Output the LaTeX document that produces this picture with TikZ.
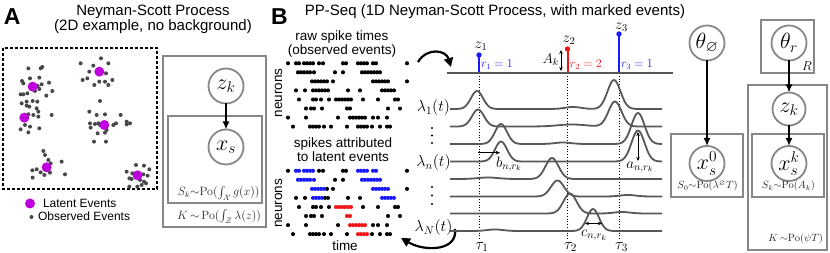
\RequirePackage{fix-cm}
\documentclass[tikz,border=0pt]{standalone}
\usepackage{amssymb}
\usepackage[no-math]{fontspec}
\setmainfont{Liberation Sans}
\usetikzlibrary{arrows.meta}
\newcommand\fsz[1]{\fontsize{#1}{#1}\selectfont}
\definecolor{mag}{RGB}{190,0,220}
\definecolor{dotg}{RGB}{72,72,72}
\definecolor{boxg}{RGB}{135,135,135}
\definecolor{curveg}{RGB}{88,88,88}
\definecolor{sblue}{RGB}{25,25,255}
\definecolor{sred}{RGB}{240,20,20}
\begin{document}
\begin{tikzpicture}[x=1pt,y=-1pt,
  every node/.style={inner sep=0pt, outer sep=0pt},
  gm/.style={circle, draw=boxg, line width=1.8pt, minimum size=35pt, inner sep=0pt, font=\fsz{22}, fill=white},
  plate/.style={draw=boxg, line width=1.8pt},
  arr/.style={-{Latex[length=8pt,width=7pt]}, line width=1.8pt},
  dbl/.style={{Stealth[length=4pt,width=3.5pt]}-{Stealth[length=4pt,width=3.5pt]}, line width=0.8pt},
  sgl/.style={-{Stealth[length=4.5pt,width=4pt]}, line width=0.8pt},
  curve/.style={curveg, line width=1.8pt, line join=round},
  tau/.style={dotted, line width=0.8pt},
  bigarr/.style={-{Triangle[length=9pt,width=9pt]}, line width=2.2pt},
  stem/.style={line width=2pt},
  lbl/.style={font=\fsz{13.5}, anchor=base},
  declare function={bp(\a,\c,\h,\s)=\h*exp(-min(((\a-\c)/\s)^2/2,9));}
]
\useasboundingbox (0,0) rectangle (830,253);

% ---------------- Panel A ----------------
\node[font=\fsz{23}\bfseries, anchor=base west] (labA) at (4,25) {A};
\node[font=\fsz{15}, anchor=base] (titA1) at (153,16) {Neyman-Scott Process};
\node[font=\fsz{15}, anchor=base] (titA2) at (153,30.5) {(2D example, no background)};

\draw[dashed, dash pattern=on 3pt off 2pt, line width=1.3pt] (3,48) rectangle (157,189);

\begin{scope}[shift={(0pt,-45pt)}, x=0.3333pt, y=-0.3333pt]
\foreach \p in {(85,70),(122,70),(127,66),(66,108),(70,115),(90,100),(118,98),(147,113),(125,118),(113,123),(118,132),(105,138),(62,148),(70,148),(82,145),(139,152),(157,138),(65,175),(80,170),(98,168),(112,170),(80,182),(88,185),(110,190),(115,200),(85,208),(100,210),(115,215),(155,210),(75,240),(90,245),(85,262),(62,253),(118,250),
(242,55),(303,40),(325,55),(268,80),(280,62),(318,85),(337,105),(248,105),(262,100),(283,120),(298,110),(315,110),(325,120),
(300,168),(268,200),(290,210),(315,208),(362,210),(270,235),(285,237),(295,235),(300,240),(318,242),(348,235),(340,240),(380,230),(390,235),(380,238),(272,248),(320,255),(315,263),(293,265),(282,290),(318,290),
(130,318),(135,330),(145,345),(152,355),(185,350),(97,376),(110,373),(122,382),(133,390),(150,383),(195,388),(98,398),
(408,360),(432,362),(448,373),(380,380),(397,385),(430,388),(443,392),(388,400),(395,402),(420,405),(432,410),(438,415),(388,425),(412,425),(425,420)}
  {\fill[dotg] \p circle[radius=2pt];}
\foreach \p in {(98,125),(298,80),(73,218),(313,240),(140,367),(413,391)}
  {\fill[mag] \p circle[radius=5pt];}
\end{scope}

\fill[mag] (30,203.5) circle[radius=5pt];
\node[font=\fsz{12}, anchor=base west] (legL) at (43,207.5) {Latent Events};
\fill[dotg] (31.5,217) circle[radius=2pt];
\node[font=\fsz{12}, anchor=base west] (legO) at (38,221) {Observed Events};

\draw[plate] (163,56) rectangle (266,227);
\draw[plate] (168,116) rectangle (262,203);
\node[gm] (zA) at (226,86) {$z_k$};
\node[gm] (xA) at (226,147) {$x_s$};
\draw[arr] (zA) -- (xA);
\node[font=\fsz{12}, anchor=base east, text=black!85] (skA) at (259.5,196) {$S_k{\sim}\mathrm{Po}(\int_{\mathcal{X}} g(x))$};
\node[font=\fsz{12}, anchor=base east, text=black!85] (KA) at (261,219.5) {$K\,{\sim}\,\mathrm{Po}(\int_{\mathcal{Z}} \lambda(z))$};

% ---------------- Panel B ----------------
\node[font=\fsz{23}\bfseries, anchor=base west] (labB) at (271,25) {B};
\node[font=\fsz{15}, anchor=base] (titB) at (495,16) {PP-Seq (1D Neyman-Scott Process, with marked events)};

\node[lbl] (raw1) at (342,41) {raw spike times};
\node[lbl] (raw2) at (342,54.5) {(observed events)};
\node[lbl] (att1) at (343,148) {spikes attributed};
\node[lbl] (att2) at (343,162) {to latent events};
\node[lbl] (time) at (345,251) {time};
\node[font=\fsz{13.5}, rotate=90] (neu1) at (278.5,93) {neurons};
\node[font=\fsz{13.5}, rotate=90] (neu2) at (278.5,203.5) {neurons};

\foreach \yy/\K/\C/\col in {
 63.3/{288,319,323,343,346,407}/{296,299,304,307,310,313,358,361,364,367,373,376}/sblue,
 72.3/{335,343}/{298,301,304,307,310,314,362,365,368,371,374,377,380}/sblue,
 81.4/{327,333,407}/{312,315,318,321,324,373,376,379,382,385,388}/sblue,
 90.4/{296,305,325,328,348,360}/{313,316,319,322,382,385,388,391,394}/sblue,
 99.5/{299,313,316,321,329,363,378,395,398}/{336,339,342,345,348,351}/sred,
 108.5/{306,311,314,322,388,400}/{347,350}/sred,
 117.6/{288,306,338,373,378,387}/{350,353,356,359,362,365}/sred,
 126.6/{293,310,313,316,319,324,331,347,372,380,387,390}/{358,361,364,367}/sred}
{
  \foreach \x in \K {\fill (\x,\yy) circle[radius=2.05pt]; \fill (\x,\yy+107.5) circle[radius=2.05pt];}
  \foreach \x in \C {\fill (\x,\yy) circle[radius=2.05pt]; \fill[\col] (\x,\yy+107.5) circle[radius=2.05pt];}
}

% curved arrows
\coordinate (a1s) at (418,62);
\coordinate (a1e) at (451,67);
\draw[bigarr] (a1s) .. controls (427,47) and (446,50) .. (a1e);
\coordinate (a2s) at (455,229);
\coordinate (a2e) at (401,238);
\draw[bigarr] (a2s) .. controls (458,251) and (425,252) .. (a2e);

% lambda labels
\node[font=\fsz{16}] (l1) at (433.5,108) {$\lambda_1(t)$};
\node[font=\fsz{16}] (ln) at (433.5,163) {$\lambda_n(t)$};
\node[font=\fsz{16}] (lN) at (433.5,228) {$\lambda_N(t)$};
\foreach \yy in {128,135.5,143,187,195.5,204} {\fill (432,\yy) circle[radius=1.2pt];}

% tau lines
\draw[tau] (479,73) -- (479,239);
\draw[tau] (567.5,73) -- (567.5,239);
\draw[tau] (619,73) -- (619,239);
\node[font=\fsz{16}] (t1) at (482,247) {$\tau_1$};
\node[font=\fsz{16}] (t2) at (570.5,247) {$\tau_2$};
\node[font=\fsz{16}] (t3) at (621.5,247) {$\tau_3$};

% intensity curves
\draw[curve] plot[domain=450:662, samples=160] (\x,{109-bp(\x,477,18,6)-bp(\x,573,2,8)-bp(\x,614,29,6.5)});
\draw[curve] plot[domain=450:662, samples=160] (\x,{126.5-bp(\x,478,17,6)-bp(\x,572,2,14)-bp(\x,615,25,6.5)});
\draw[curve] plot[domain=450:662, samples=160] (\x,{144-bp(\x,501,20,6)-bp(\x,563,1.5,8)-bp(\x,638,31,6.5)});
\draw[curve] plot[domain=450:662, samples=160] (\x,{161.5-bp(\x,501,20,6)-bp(\x,638,31,6.5)});
\draw[curve] plot[domain=450:662, samples=160] (\x,{179-bp(\x,488,1.5,10)-bp(\x,552,21,6.5)});
\draw[curve] plot[domain=450:662, samples=160] (\x,{196.5-bp(\x,557.5,16,6.5)-bp(\x,628,1.5,8)});
\draw[curve] plot[domain=450:662, samples=160] (\x,{213.5-bp(\x,570,20,6.5)-bp(\x,622,1.5,8)});
\draw[curve] plot[domain=450:662, samples=160] (\x,{231-bp(\x,495,1.5,8)-bp(\x,593,22,6)});

% annotations on curves
\coordinate (bS) at (478,152.7);
\coordinate (bE) at (500,152.7);
\draw[sgl] (bS) -- (bE);
\node[font=\fsz{15}] (bl) at (509,164) {$b_{n,r_k}$};
\coordinate (aS) at (638,132);
\coordinate (aE) at (638,161);
\draw[dbl] (aS) -- (aE);
\node[font=\fsz{15}] (al) at (640,167) {$a_{n,r_k}$};
\coordinate (cS) at (585,223.5);
\coordinate (cE) at (602,223.5);
\draw[dbl] (cS) -- (cE);
\node[font=\fsz{15}] (cl) at (594,235.5) {$c_{n,r_k}$};

% top axis with marked events
\coordinate (z1b) at (479,73); \coordinate (z1t) at (479,55);
\coordinate (z2b) at (567.5,73); \coordinate (z2t) at (567.5,49);
\coordinate (z3b) at (619,73); \coordinate (z3t) at (619,34);
\draw[sblue, stem] (z1b) -- (z1t); \fill[sblue] (z1t) circle[radius=2.7pt];
\draw[sred, stem] (z2b) -- (z2t); \fill[sred] (z2t) circle[radius=2.7pt];
\draw[sblue, stem] (z3b) -- (z3t); \fill[sblue] (z3t) circle[radius=2.7pt];
\coordinate (axL) at (447,73); \coordinate (axR) at (673,73);
\draw[curveg, line width=1.8pt] (axL) -- (axR);
\node[font=\fsz{15}] (z1l) at (481,46.5) {$z_1$};
\node[font=\fsz{15}] (z2l) at (569,40.5) {$z_2$};
\node[font=\fsz{15}] (z3l) at (621.5,27.5) {$z_3$};
\node[font=\fsz{12}, text=sblue, anchor=west] (r1) at (481,64.5) {$r_1 = 1$};
\node[font=\fsz{12}, text=sred, anchor=west] (r2) at (570,64.5) {$r_2 = 2$};
\node[font=\fsz{12}, text=sblue, anchor=west] (r3) at (621,64.5) {$r_3 = 1$};
\coordinate (AkT) at (561,50); \coordinate (AkB) at (561,71);
\draw[dbl] (AkT) -- (AkB);
\node[font=\fsz{14}, anchor=east] (Akl) at (559,60) {$A_k$};

% ---------------- right graphical model ----------------
\draw[plate] (671,134) rectangle (743,197);
\node[gm] (th0) at (707,43) {$\theta_{\varnothing}$};
\node[gm] (x0) at (707,163.5) {$x_s^0$};
\draw[arr] (th0) -- (x0);
\node[font=\fsz{10.5}, text=black!85] (S0l) at (707.5,186) {$S_0{\sim}\mathrm{Po}(\lambda^{\varnothing}T)$};

\draw[plate] (761,20) rectangle (814,73);
\draw[plate] (748,85) rectangle (827,250);
\draw[plate] (752,134) rectangle (824,197);
\node[gm] (thr) at (789,43) {$\theta_r$};
\node[font=\fsz{13}] (Rl) at (807,66) {$R$};
\node[gm, minimum size=33pt] (zR) at (789,109) {$z_k$};
\node[gm] (xR) at (789,163.5) {$x_s^k$};
\draw[arr] (thr) -- (zR);
\draw[arr] (zR) -- (xR);
\node[font=\fsz{10.5}, text=black!85] (Skl) at (788.5,186) {$S_k{\sim}\mathrm{Po}(A_k)$};
\node[font=\fsz{10.5}, text=black!85, anchor=east] (KRl) at (823,238.5) {$K\,{\sim}\mathrm{Po}(\psi T)$};

\end{tikzpicture}
\end{document}
